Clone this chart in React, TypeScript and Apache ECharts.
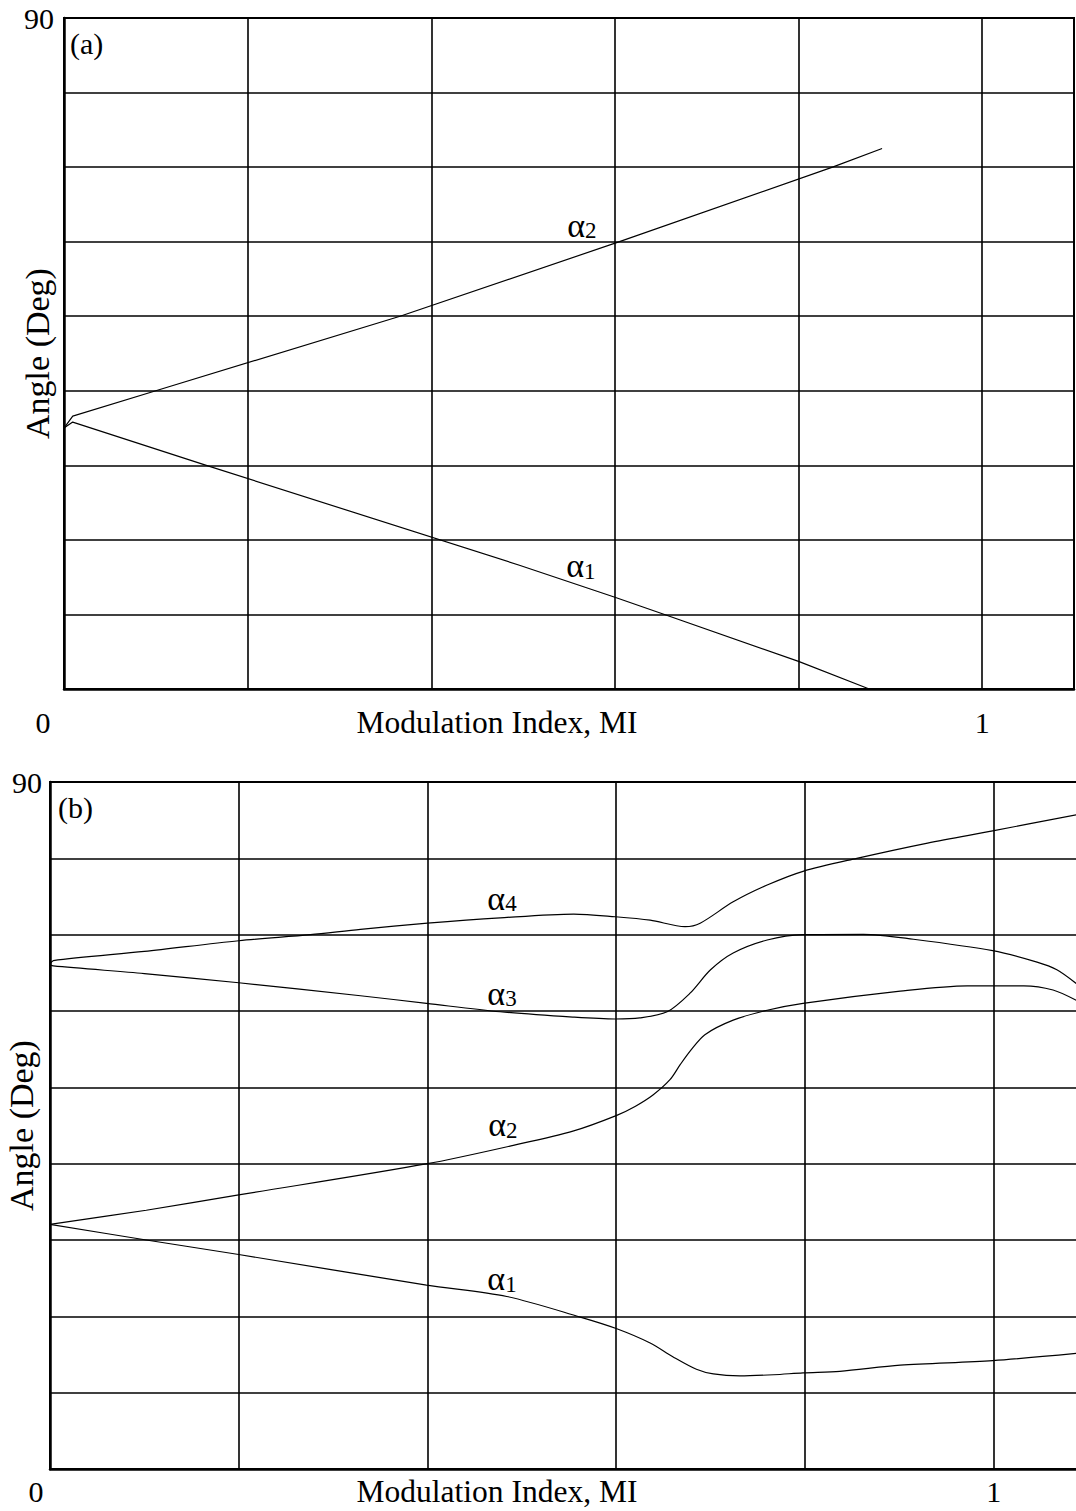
import { useEffect, useRef } from "react";
import * as echarts from "echarts";

// ---------- Panel (a) ----------
const miA_alpha2 = [0, 0.0095, 0.1, 0.366, 0.605, 0.837, 0.891];
const degA_alpha2 = [35.0, 36.6, 40.0, 50.0, 60.0, 70.0, 72.5];
const miA_alpha1 = [0, 0.0095, 0.155, 0.496, 0.6, 0.654, 0.8, 0.877];
const degA_alpha1 = [35.0, 35.8, 30.0, 16.6, 12.3, 10.0, 3.7, 0];

// ---------- Panel (b) ----------
const miB_alpha4 = [0, 0.0035, 0.1, 0.2, 0.276, 0.329, 0.4, 0.477, 0.555, 0.599, 0.636, 0.673, 0.689, 0.724, 0.76, 0.798, 0.855, 0.93, 0.999, 1.0875];
const degB_alpha4 = [66.1, 66.6, 67.8, 69.2, 70.0, 70.7, 71.5, 72.2, 72.7, 72.35, 71.9, 71.05, 71.5, 74.3, 76.5, 78.3, 80.0, 82.0, 83.6, 85.7];
const miB_alpha3 = [0, 0.0035, 0.1, 0.2, 0.329, 0.399, 0.477, 0.554, 0.599, 0.625, 0.654, 0.678, 0.7, 0.724, 0.76, 0.798, 0.862, 0.915, 0.999, 1.046, 1.067, 1.0875];
const degB_alpha3 = [66.1, 65.9, 64.9, 63.7, 62.0, 61.0, 59.9, 59.2, 58.95, 59.1, 59.9, 62.3, 65.4, 67.6, 69.3, 70.0, 70.05, 69.4, 67.9, 66.4, 65.4, 63.6];
const miB_alpha2 = [0, 0.102, 0.2, 0.4, 0.491, 0.555, 0.6, 0.62, 0.639, 0.657, 0.668, 0.68, 0.694, 0.724, 0.76, 0.798, 0.901, 0.972, 1.032, 1.063, 1.0875];
const degB_alpha2 = [32.05, 33.9, 35.9, 40.0, 42.4, 44.3, 46.3, 47.5, 49.0, 51.0, 53.0, 55.0, 56.9, 58.8, 60.1, 61.0, 62.6, 63.3, 63.3, 62.75, 61.4];
const miB_alpha1 = [0, 0.102, 0.2, 0.399, 0.484, 0.562, 0.6, 0.636, 0.66, 0.685, 0.703, 0.731, 0.767, 0.798, 0.837, 0.901, 0.999, 1.0875];
const degB_alpha1 = [32.05, 30.0, 28.1, 24.1, 22.6, 19.9, 18.4, 16.5, 14.7, 13.06, 12.45, 12.2, 12.35, 12.6, 12.8, 13.6, 14.2, 15.15];

// curve label anchors [MI, deg] and subscripts
const labelsA = [
  { sub: "2", at: [0.564, 62.2] },
  { sub: "1", at: [0.563, 16.5] },
];
const labelsB = [
  { sub: "4", at: [0.479, 74.8] },
  { sub: "3", at: [0.479, 62.3] },
  { sub: "2", at: [0.48, 45.1] },
  { sub: "1", at: [0.479, 24.9] },
];

const xTickShown = [0, 1];
const yTickShown = [90];
const xName = "Modulation Index, MI";
const yName = "Angle (Deg)";

const FONT = "Liberation Serif";

function zip(xs: number[], ys: number[]) {
  return xs.map((x, i) => [x, ys[i]]);
}

const rich = {
  a: { fontSize: 34, fontFamily: FONT, color: "#000", lineHeight: 34, verticalAlign: "bottom" },
  s: { fontSize: 23, fontFamily: FONT, color: "#000", lineHeight: 23, verticalAlign: "bottom" },
};

function lineSeries(xi: number, data: number[][], smooth: number, label?: { sub: string; at: number[] }) {
  const s: any = {
    type: "line",
    xAxisIndex: xi,
    yAxisIndex: xi,
    data,
    showSymbol: false,
    symbol: "none",
    smooth,
    lineStyle: { color: "#000", width: 1.2 },
    silent: true,
    z: 5,
  };
  if (label) {
    s.markPoint = {
      symbol: "circle",
      symbolSize: 1,
      silent: true,
      itemStyle: { color: "rgba(0,0,0,0)" },
      label: {
        show: true,
        position: "inside",
        formatter: "{a|α}{s|" + label.sub + "}",
        rich,
      },
      data: [{ coord: label.at }],
    };
  }
  return s;
}

function xAxis(gi: number, margin: number, zeroShift: number, nameGap: number) {
  return {
    gridIndex: gi,
    type: "value",
    min: 0,
    max: 1.1,
    interval: 0.2,
    axisLine: { show: true, onZero: false, lineStyle: { color: "#000", width: 2.5 } },
    axisTick: { show: false },
    splitLine: { show: true, lineStyle: { color: "#000", width: 1.6 } },
    axisLabel: {
      margin,
      fontSize: 30,
      fontFamily: FONT,
      color: "#000",
      showMaxLabel: false,
      hideOverlap: false,
      formatter: (v: number) => {
        if (Math.abs(v - xTickShown[0]) < 1e-9) return "{z|" + xTickShown[0] + "}";
        if (Math.abs(v - xTickShown[1]) < 1e-9) return String(xTickShown[1]);
        return "";
      },
      rich: { z: { fontSize: 30, fontFamily: FONT, color: "#000", padding: [0, zeroShift * 2, 0, 0] } },
    },
    name: xName,
    nameLocation: "middle",
    nameGap,
    nameMoveOverlap: false,
    nameTextStyle: { fontSize: 31.5, fontFamily: FONT, color: "#000", padding: [0, 144, 0, 0] },
  };
}

function yAxis(gi: number, margin: number, topPad: number, nameGap: number) {
  return {
    gridIndex: gi,
    type: "value",
    min: 0,
    max: 90,
    interval: 10,
    axisLine: { show: true, onZero: false, lineStyle: { color: "#000", width: 2.5 } },
    axisTick: { show: false },
    splitLine: { show: true, lineStyle: { color: "#000", width: 1.6 } },
    axisLabel: {
      margin,
      fontSize: 30,
      fontFamily: FONT,
      color: "#000",
      padding: [topPad, 0, 0, 0],
      formatter: (v: number) => (yTickShown.includes(v) ? String(v) : ""),
    },
    name: yName,
    nameLocation: "middle",
    nameGap,
    nameMoveOverlap: false,
    nameTextStyle: { fontSize: 34, fontFamily: FONT, color: "#000" },
  };
}

export default function App() {
  const ref = useRef<HTMLDivElement>(null);
  useEffect(() => {
    document.body.style.margin = "0";
    const chart = echarts.init(ref.current!, null, { renderer: "svg" });
    const option: any = {
      animation: false,
      backgroundColor: "#fff",
      grid: [
        { left: 64, top: 18, width: 1010, height: 671, show: true, borderColor: "#000", borderWidth: 2, containLabel: false, outerBoundsMode: "none" },
        { left: 50, top: 782, width: 1038, height: 687, show: true, borderColor: "#000", borderWidth: 2, containLabel: false, outerBoundsMode: "none" },
      ],
      xAxis: [xAxis(0, 18, 21, 17), xAxis(1, 7, 14, 6)],
      yAxis: [yAxis(0, 10, 8, 10), yAxis(1, 8, 4, 12)],
      graphic: [
        { type: "text", left: 70, top: 28, style: { text: "(a)", fontSize: 30, fontFamily: FONT, fill: "#000" } },
        { type: "text", left: 58, top: 792, style: { text: "(b)", fontSize: 30, fontFamily: FONT, fill: "#000" } },
      ],
      series: [
        lineSeries(0, zip(miA_alpha2, degA_alpha2), 0, labelsA[0]),
        lineSeries(0, zip(miA_alpha1, degA_alpha1), 0, labelsA[1]),
        lineSeries(1, zip(miB_alpha4, degB_alpha4), 0.3, labelsB[0]),
        lineSeries(1, zip(miB_alpha3, degB_alpha3), 0.3, labelsB[1]),
        lineSeries(1, zip(miB_alpha2, degB_alpha2), 0.3, labelsB[2]),
        lineSeries(1, zip(miB_alpha1, degB_alpha1), 0.3, labelsB[3]),
      ],
    };
    chart.setOption(option);
    return () => chart.dispose();
  }, []);
  return <div ref={ref} style={{ width: 1076, height: 1511, background: "#fff" }} />;
}
